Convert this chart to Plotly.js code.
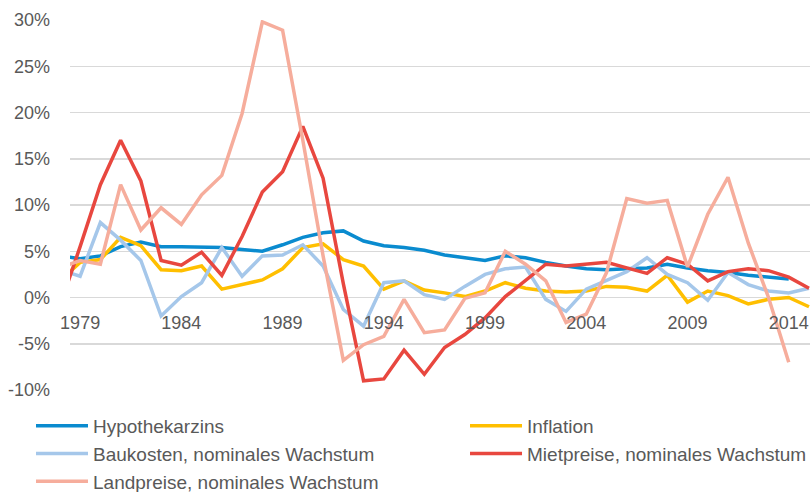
<!DOCTYPE html>
<html><head><meta charset="utf-8">
<script src="https://cdn.plot.ly/plotly-3.0.1.min.js"></script>
<style>html,body{margin:0;padding:0;background:#fff}#chart{width:810px;height:492px}</style>
</head><body><div id="chart"></div>
<script>
const years = [1978,1979,1980,1981,1982,1983,1984,1985,1986,1987,1988,1989,1990,1991,1992,1993,1994,1995,1996,1997,1998,1999,2000,2001,2002,2003,2004,2005,2006,2007,2008,2009,2010,2011,2012,2013,2014,2015];

const hypothekarzins = [4.5,4.2,4.5,5.5,6.0,5.5,5.5,5.45,5.4,5.2,5.0,5.7,6.5,7.0,7.2,6.1,5.6,5.4,5.1,4.6,4.3,4.0,4.5,4.3,3.8,3.4,3.1,3.0,3.1,3.2,3.6,3.2,2.9,2.7,2.4,2.2,2.0,null];
const inflation = [1.8,3.8,4.1,6.5,5.6,3.0,2.9,3.4,0.9,1.4,1.9,3.1,5.4,5.8,4.1,3.4,0.9,1.8,0.8,0.5,0.1,0.7,1.6,1.0,0.7,0.6,0.7,1.2,1.1,0.7,2.4,-0.5,0.7,0.2,-0.7,-0.2,0.0,-1.0];
const baukosten = [3.0,2.3,8.1,6.2,4.0,-2.0,0.1,1.6,5.4,2.3,4.5,4.6,5.7,3.4,-1.3,-3.1,1.6,1.8,0.3,-0.2,1.2,2.5,3.1,3.3,-0.2,-1.5,0.9,1.9,2.8,4.3,2.5,1.6,-0.3,2.7,1.4,0.7,0.5,1.0];
const mietpreise = [-0.9,5.5,12.2,17.0,12.6,4.0,3.5,4.9,2.4,6.6,11.4,13.6,18.5,12.9,1.5,-9.0,-8.8,-5.7,-8.3,-5.4,-4.0,-2.2,0.1,1.9,3.6,3.4,3.6,3.8,3.2,2.6,4.3,3.6,1.8,2.8,3.1,2.9,2.2,1.0];
const landpreise = [3.2,4.0,3.6,12.2,7.3,9.7,7.9,11.1,13.2,19.9,29.8,28.9,17.0,4.5,-6.8,-5.1,-4.2,-0.2,-3.8,-3.5,-0.1,0.5,5.0,3.6,1.8,-2.7,-1.8,2.7,10.7,10.2,10.5,3.3,9.0,13.0,5.9,0.0,-7.0,null];

const seriesNames = ['Hypothekarzins','Inflation','Baukosten, nominales Wachstum','Mietpreise, nominales Wachstum','Landpreise, nominales Wachstum'];

const xTickVals = [1979,1984,1989,1994,1999,2004,2009,2014];
const xTickText = ['1979','1984','1989','1994','1999','2004','2009','2014'];
const yTickVals = [-10,-5,0,5,10,15,20,25,30];
const yTickText = ['-10%','-5%','0%','5%','10%','15%','20%','25%','30%'];

const colors = ['#0a8bcf','#ffbf00','#a5c7ea','#e8473f','#f6ad9c'];
const legendOf = ['legend','legend2','legend','legend2','legend'];
const values = [hypothekarzins, inflation, baukosten, mietpreise, landpreise];

const data = values.map((v,i)=>({
  type:'scatter', mode:'lines', x:years, y:v, name:seriesNames[i],
  line:{color:colors[i], width:3.5}, legend:legendOf[i], hoverinfo:'skip'
}));

const legendCommon = {xanchor:'left', yanchor:'top', orientation:'v', font:{size:19,color:'#595959'}, bgcolor:'rgba(0,0,0,0)', itemwidth:52, traceorder:'normal'};

const layout = {
  width:810, height:492,
  margin:{l:70, r:0, t:20, b:102, autoexpand:false},
  paper_bgcolor:'#ffffff', plot_bgcolor:'#ffffff',
  font:{family:'Liberation Sans, Arial, sans-serif', size:18, color:'#595959'},
  xaxis:{range:[1978.5,2015.05], tickvals:xTickVals, ticktext:xTickText, showgrid:false, zeroline:false, showline:false, ticks:'', anchor:'free', position:0.25, ticklabelstandoff:12, fixedrange:true},
  yaxis:{range:[-10,30], tickvals:yTickVals, ticktext:yTickText, showgrid:true, gridcolor:'#d9d9d9', gridwidth:1.5, zeroline:false, showline:false, ticks:'', ticklabelstandoff:19, fixedrange:true},
  showlegend:true,
  legend:Object.assign({x:-0.0527, y:-0.046}, legendCommon),
  legend2:Object.assign({x:0.5338, y:-0.046}, legendCommon)
};

Plotly.newPlot('chart', data, layout, {displayModeBar:false, staticPlot:true});
</script>
</body></html>
